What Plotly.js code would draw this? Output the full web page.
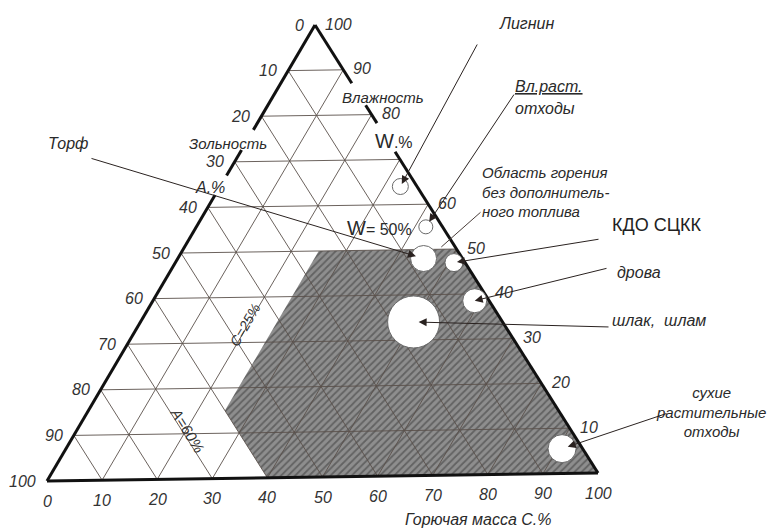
<!DOCTYPE html>
<html>
<head>
<meta charset="utf-8">
<script src="https://cdn.plot.ly/plotly-3.0.1.min.js"></script>
<style>
html, body { margin: 0; padding: 0; background: #ffffff; }
#chart { width: 772px; height: 528px; }
</style>
</head>
<body>
<div id="chart"></div>
<script>
// ---------------- DATA (composition, %) ----------------
// W = влажность (moisture), A = зольность (ash), C = горючая масса (combustible mass)
const materials    = ['Лигнин', 'Вл.раст. отходы', 'Торф', 'КДО СЦКК', 'дрова', 'шлак, шлам', 'сухие растительные отходы'];
const moistureW    = [64, 55, 48, 47, 38.5, 34, 5.5];
const ashA         = [3, 3, 7, 2, 2.6, 16, 3.7];
const combustibleC = [33, 42, 45, 51, 58.9, 50, 90.8];

// Область горения без дополнительного топлива (polygon vertices, W / A / C)
const regionW = [50, 50, 0, 0, 15, 50];
const regionA = [25, 0, 0, 60, 60, 25];
const regionC = [25, 50, 100, 40, 25, 25];

// Tick labels on the three sides
const ticksA = [0, 10, 20, 30, 40, 50, 60, 70, 80, 90, 100];   // left side
const ticksW = [10, 20, 30, 40, 50, 60, 80, 90, 100];          // right side
const ticksC = [0, 10, 20, 30, 40, 50, 60, 70, 80, 90, 100];   // bottom
const gridValues = [10, 20, 30, 40, 50, 60, 70, 80, 90];

// ---------------- LAYOUT CONSTANTS ----------------
// triangle corners in the drawing frame (W=100 top, A=100 bottom-left, C=100 bottom-right)
const V = { W: [315, 25], A: [47, 481], C: [598, 473] };
function tern(w, a, c) {
  const s = w + a + c;
  return [(w * V.W[0] + a * V.A[0] + c * V.C[0]) / s,
          (w * V.W[1] + a * V.A[1] + c * V.C[1]) / s];
}
function polyline(pts) {
  const x = [], y = [];
  pts.forEach(p => {
    if (!p) { x.push(null); y.push(null); }
    else { const q = tern(p[0], p[1], p[2]); x.push(q[0]); y.push(q[1]); }
  });
  return { x, y };
}

const FONT = 'Liberation Sans, Arial, sans-serif';
const TXT = '#2a2a2a';

// marker diameters (px) and arrow standoffs for each material
const markerDiam = [16, 14, 26, 18, 24, 52, 28];
const arrowStand = [3, 6, 8, 3, 0, 5, 6];
// leader tails (frame coords)
const leaderTail = [[478, 43], [515, 93], [90, 158], [600, 239], [608, 268], [610, 327], [668, 413]];

// ---------------- TRACES ----------------
const traces = [];

// shaded region
const reg = polyline(regionW.map((w, i) => [w, regionA[i], regionC[i]]));
traces.push({
  type: 'scatter', mode: 'lines', x: reg.x, y: reg.y,
  fill: 'toself', fillcolor: '#8e8e8e',
  fillpattern: { shape: '/', bgcolor: '#8e8e8e', fgcolor: '#626262', size: 5, solidity: 0.35 },
  line: { width: 0, color: '#8a8a8a' }, hoverinfo: 'skip'
});

// grid lines
const gridPts = [];
gridValues.forEach(k => {
  gridPts.push([k, 100 - k, 0], [k, 0, 100 - k], null);
  gridPts.push([100 - k, k, 0], [0, k, 100 - k], null);
  gridPts.push([100 - k, 0, k], [0, 100 - k, k], null);
});
const g = polyline(gridPts);
traces.push({ type: 'scatter', mode: 'lines', x: g.x, y: g.y,
  line: { color: '#5a504b', width: 0.9 }, hoverinfo: 'skip' });

// triangle edges (with gaps for the axis titles)
const leftSeg = [[0, 23], [27.4, 33], [37.3, 100]];
const rightSeg = [[0, 71.7], [78.1, 82.1], [87, 100]];
const edgePts = [];
leftSeg.forEach(s => edgePts.push([100 - s[0], s[0], 0], [100 - s[1], s[1], 0], null));
rightSeg.forEach(s => edgePts.push([s[0], 0, 100 - s[0]], [s[1], 0, 100 - s[1]], null));
edgePts.push([0, 100, 0], [0, 0, 100]);
const e = polyline(edgePts);
traces.push({ type: 'scatter', mode: 'lines', x: e.x, y: e.y,
  line: { color: '#111111', width: 3 }, hoverinfo: 'skip' });

// materials
const mx = [], my = [];
materials.forEach((m, i) => {
  const q = tern(moistureW[i], ashA[i], combustibleC[i]);
  mx.push(q[0]); my.push(q[1]);
});
traces.push({ type: 'scatter', mode: 'markers', x: mx, y: my, text: materials,
  opacity: 1,
  marker: { size: markerDiam, color: '#ffffff', opacity: 1, line: { color: '#6a6a6a', width: 1 } },
  hoverinfo: 'text' });

// ---------------- ANNOTATIONS ----------------
const ann = [];
function label(x, y, text, o) {
  o = o || {};
  ann.push(Object.assign({
    x, y, xref: 'x', yref: 'y', text, showarrow: false,
    xanchor: 'left', yanchor: 'middle',
    font: { family: FONT, size: 16, color: TXT, style: 'italic' }
  }, o));
}
const tickFont = { family: FONT, size: 16, color: '#333', style: 'italic' };

// tick labels
ticksA.forEach(t => {
  const p = tern(100 - t, t, 0);
  label(p[0], p[1], String(t), { xanchor: 'right', xshift: -9, font: tickFont });
});
ticksW.forEach(t => {
  const p = tern(t, 0, 100 - t);
  label(p[0], p[1], String(t), { xanchor: 'left', xshift: 8, yshift: 1, font: tickFont });
});
ticksC.forEach(t => {
  const p = tern(0, 100 - t, t);
  label(p[0], p[1], String(t), { xanchor: 'center', yshift: -20, font: tickFont });
});

// leaders with arrowheads
materials.forEach((m, i) => {
  ann.push({
    x: mx[i], y: my[i], xref: 'x', yref: 'y',
    ax: leaderTail[i][0], ay: leaderTail[i][1], axref: 'x', ayref: 'y',
    text: '', showarrow: true, arrowhead: 2, arrowsize: 1.6, arrowwidth: 1,
    arrowcolor: '#2a2220', standoff: arrowStand[i]
  });
});
// leader of the region label (no head)
const regAnchor = tern(50.5, 2.5, 47);
ann.push({ x: regAnchor[0], y: regAnchor[1], xref: 'x', yref: 'y',
  ax: 482, ay: 211, axref: 'x', ayref: 'y', text: '', showarrow: true,
  arrowhead: 0, arrowwidth: 1, arrowcolor: '#4a3e3a' });

// texts
label(497, 23, 'Лигнин');
label(513, 86, '<u>Вл.раст.</u>');
label(513, 108, 'отходы');
label(480, 192, 'Область горения<br>без дополнитель-<br>ного топлива',
  { align: 'left', font: { family: FONT, size: 15, color: TXT, style: 'italic' } });
label(610, 225, 'КДО СЦКК', { font: { family: FONT, size: 18, color: '#222' } });
label(615, 272, 'дрова');
label(610, 320, 'шлак,\u00a0\u00a0шлам');
label(711, 412, 'сухие<br>растительные<br>отходы', { xanchor: 'center', align: 'center',
  font: { family: FONT, size: 15, color: TXT, style: 'italic' } });
label(68, 143, 'Торф', { xanchor: 'center' });
label(187, 143, 'Зольность', { font: { family: FONT, size: 15, color: TXT, style: 'italic' } });
label(193, 187, 'A.%');
label(340, 97, 'Влажность', { font: { family: FONT, size: 15, color: TXT, style: 'italic' } });
label(373, 141, '<span style="font-size:20px">W</span>.%', { font: { family: FONT, size: 16, color: TXT } });
label(345, 228, '<span style="font-size:20px">W</span>= 50%', { font: { family: FONT, size: 16, color: TXT } });
label(478, 519, 'Горючая масса С.%', { xanchor: 'center' });
label(245, 325, 'C=25%', { xanchor: 'center', textangle: -60,
  font: { family: FONT, size: 14, color: '#333', style: 'italic' } });
label(188, 430, 'A=60%', { xanchor: 'center', textangle: 58,
  font: { family: FONT, size: 15, color: '#333', style: 'italic' } });

const layout = {
  width: 772, height: 528,
  margin: { l: 0, r: 0, t: 0, b: 0 },
  paper_bgcolor: '#ffffff', plot_bgcolor: '#ffffff',
  showlegend: false,
  xaxis: { range: [0, 772], visible: false, fixedrange: true },
  yaxis: { range: [528, 0], visible: false, fixedrange: true },
  annotations: ann
};

Plotly.newPlot('chart', traces, layout, { staticPlot: true, displayModeBar: false });
</script>
</body>
</html>
